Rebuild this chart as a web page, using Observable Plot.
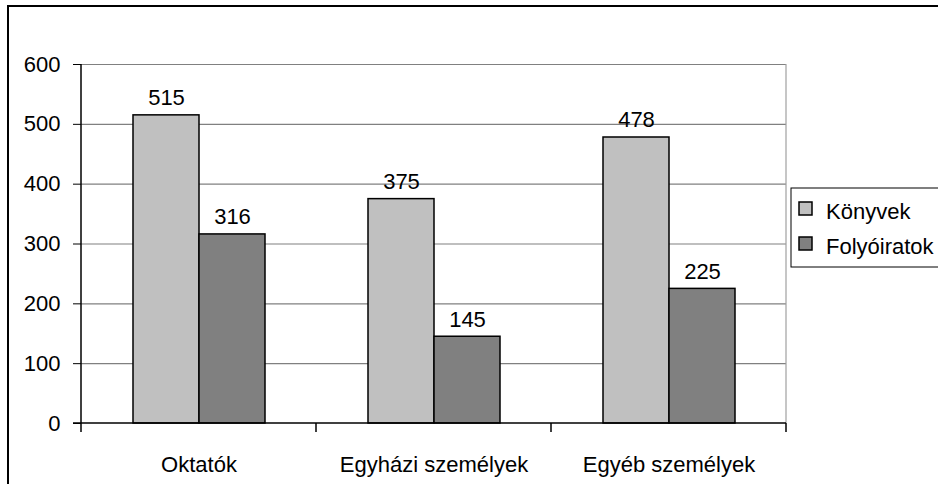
<!DOCTYPE html>
<html>
<head>
<meta charset="utf-8">
<script src="https://cdn.jsdelivr.net/npm/d3@7"></script>
<script src="https://cdn.jsdelivr.net/npm/@observablehq/plot@0.6"></script>
<style>
  html, body { margin: 0; padding: 0; background: #fff; }
  #wrap { position: relative; width: 938px; height: 484px; overflow: hidden; }
  #border { position: absolute; left: 7px; top: 5px; width: 960px; height: 520px; border: 2px solid #000; box-sizing: border-box; pointer-events: none; }
  svg { display: block; }
</style>
</head>
<body>
<div id="wrap"><div id="border"></div></div>
<script>
const categories = ["Oktatók", "Egyházi személyek", "Egyéb személyek"];
const series = ["Könyvek", "Folyóiratok"];
const konyvek = [515, 375, 478];
const folyoiratok = [316, 145, 225];
const yTicks = [0, 100, 200, 300, 400, 500, 600];
const colors = ["#c0c0c0", "#808080"];

const data = categories.flatMap((c, i) => [
  {cat: c, series: series[0], value: konyvek[i]},
  {cat: c, series: series[1], value: folyoiratok[i]}
]);

const FONT = "'Liberation Sans', Arial, sans-serif";

const plot = Plot.plot({
  width: 938,
  height: 484,
  marginLeft: 80,
  marginRight: 151,
  marginTop: 64,
  marginBottom: 61,
  style: {fontFamily: FONT, fontSize: "22px", background: "transparent", color: "#000", overflow: "visible"},
  fx: {domain: categories, padding: 0, label: null, axis: "bottom", tickSize: 0, tickPadding: 33},
  x: {domain: series, paddingInner: 0, paddingOuter: 0.758, axis: null},
  y: {domain: [0, 600], ticks: yTicks, label: null, tickSize: 8, tickPadding: 13},
  color: {domain: series, range: colors},
  marks: [
    Plot.gridY(yTicks.filter(d => d > 0), {stroke: "#808080", strokeOpacity: 1, strokeWidth: 1.2}),
    Plot.barY(data, {fx: "cat", x: "series", y: "value", fill: "series", stroke: "#000", strokeWidth: 1.5}),
    Plot.text(data, {fx: "cat", x: "series", y: "value", text: d => String(d.value), lineAnchor: "bottom", dy: -10, fill: "#000"})
  ]
});

document.getElementById("wrap").prepend(plot);

const svg = d3.select(plot);
const fx = plot.scale("fx");
const y = plot.scale("y");
const bw = fx.bandwidth;
const bounds = categories.map(c => fx.apply(c));
bounds.push(fx.apply(categories[categories.length - 1]) + bw);
const x0 = bounds[0], x1 = bounds[bounds.length - 1];
const y0 = y.apply(0), yTop = y.apply(600);

const g = svg.append("g").attr("stroke-linecap", "butt");
// right border of plot area
g.append("line").attr("x1", x1).attr("x2", x1).attr("y1", yTop).attr("y2", y0)
  .attr("stroke", "#a0a0a0").attr("stroke-width", 1.2);
// y axis line
g.append("line").attr("x1", x0).attr("x2", x0).attr("y1", yTop).attr("y2", y0)
  .attr("stroke", "#000").attr("stroke-width", 1.5);
// x axis line
g.append("line").attr("x1", x0 - 8).attr("x2", x1).attr("y1", y0).attr("y2", y0)
  .attr("stroke", "#000").attr("stroke-width", 1.5);
// category boundary ticks
g.selectAll("line.b").data(bounds).join("line").attr("class", "b")
  .attr("x1", d => d).attr("x2", d => d).attr("y1", y0).attr("y2", y0 + 9)
  .attr("stroke", "#000").attr("stroke-width", 1.5);

// legend
const lg = svg.append("g").attr("font-family", FONT).attr("font-size", 22).attr("text-anchor", "start");
lg.append("rect").attr("x", 791).attr("y", 188).attr("width", 170).attr("height", 79)
  .attr("fill", "#fff").attr("stroke", "#000").attr("stroke-width", 1);
series.forEach((s, i) => {
  const yy = 202 + i * 35;
  lg.append("rect").attr("x", 799).attr("y", yy).attr("width", 13).attr("height", 13)
    .attr("fill", plot.scale("color").apply(s)).attr("stroke", "#000").attr("stroke-width", 1.5);
  lg.append("text").attr("x", 826).attr("y", yy + 17).attr("fill", "#000").attr("text-anchor", "start").text(s);
});
</script>
</body>
</html>
